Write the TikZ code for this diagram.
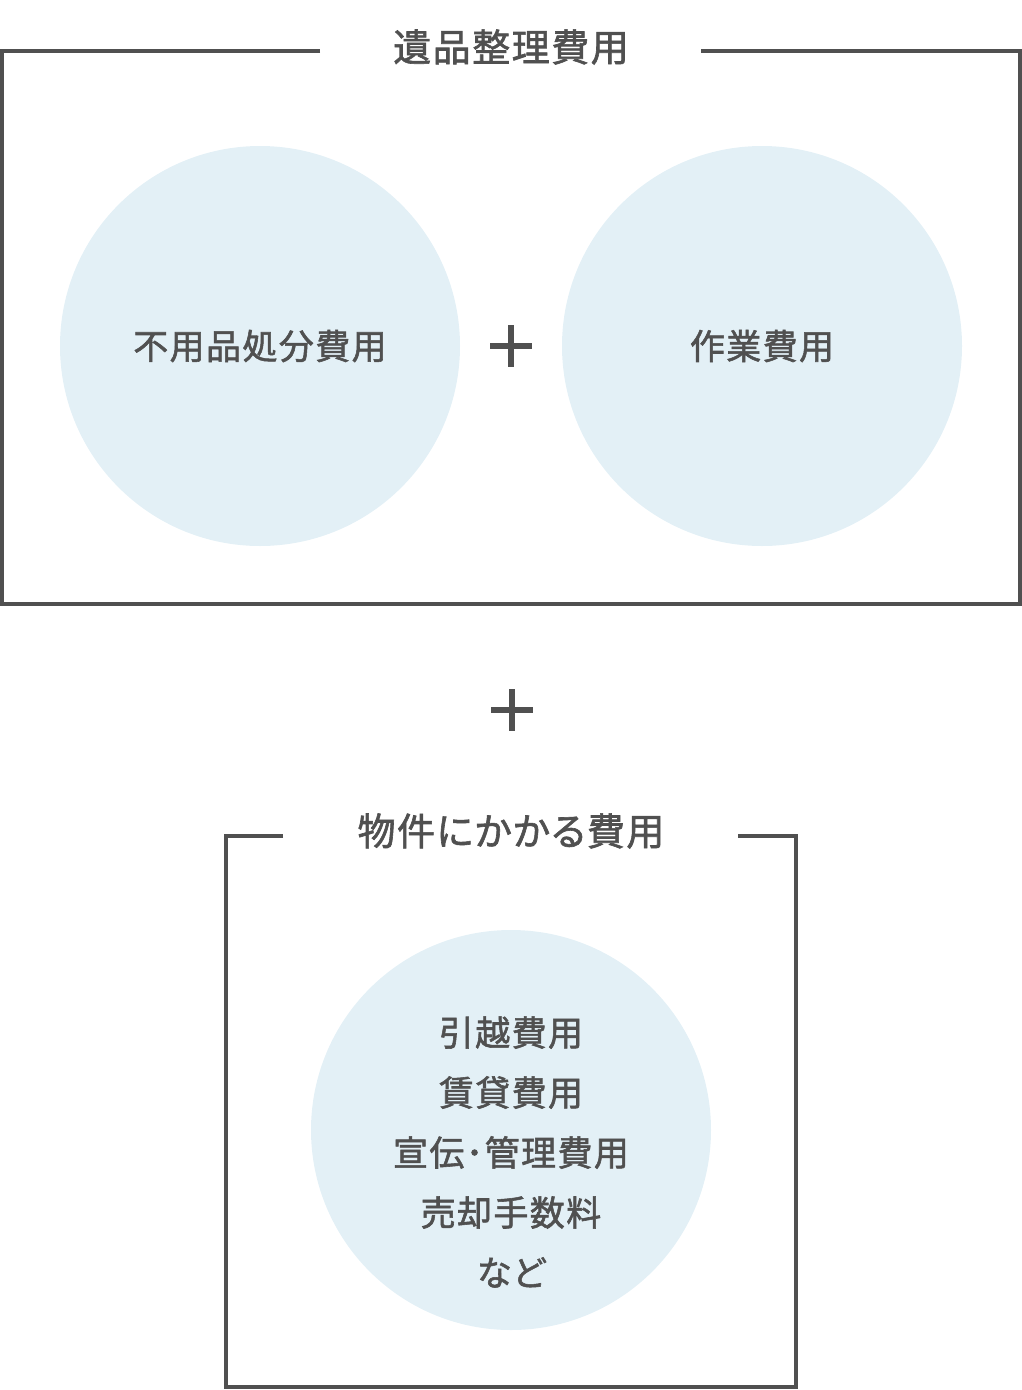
\documentclass[tikz,border=0pt]{standalone}
\usepackage{fontspec}
\newfontfamily\jpfont[LetterSpace=4, FakeBold=1.6, RawFeature=+palt]{Noto Sans CJK JP}
\usetikzlibrary{positioning, calc}
\definecolor{txtgray}{HTML}{505050}
\definecolor{circblue}{HTML}{E3F0F6}

\begin{document}
\begin{tikzpicture}[x=1pt, y=-1pt,
    frame/.style={draw=txtgray, line width=3.3pt},
    plusline/.style={draw=txtgray, line width=5.5pt},
    bubble/.style={circle, fill=circblue, minimum size=400pt, inner sep=0pt, align=center, text=txtgray, font=\jpfont\fontsize{35}{60}\selectfont},
    listtext/.style={align=center, text=txtgray, inner sep=0pt, font=\jpfont\fontsize{35}{60}\selectfont},
    heading/.style={text=txtgray, font=\jpfont\fontsize{38}{40}\selectfont, inner sep=0pt}]
    \useasboundingbox (0,0) rectangle (1022,1390);
    % upper frame
    \node[heading] (title1) at (511,47) {遺品整理費用};
    \coordinate (tl1) at (2,51);
    \coordinate (br1) at (1020,604);
    \draw[frame] (320,51) -| (tl1) |- (br1) |- (701,51);
    \node[bubble] (disposal) at (260,346) {\raisebox{-3pt}{不用品処分費用}};
    \node[bubble] (work) at (762,346) {\raisebox{-3pt}{作業費用}};
    \coordinate (plusA) at (511,346);
    \draw[plusline] ([xshift=-21pt]plusA) -- ([xshift=21pt]plusA);
    \draw[plusline] ([yshift=21pt]plusA) -- ([yshift=-21pt]plusA);
    % plus between the frames
    \coordinate (plusB) at (512,710);
    \draw[plusline] ([xshift=-21pt]plusB) -- ([xshift=21pt]plusB);
    \draw[plusline] ([yshift=21pt]plusB) -- ([yshift=-21pt]plusB);
    % lower frame
    \node[heading] (title2) at (511,831) {物件にかかる費用};
    \coordinate (tl2) at (226,836);
    \coordinate (br2) at (796,1387);
    \draw[frame] (283,836) -| (tl2) |- (br2) |- (738,836);
    \node[bubble] (property) at (511,1130) {};
    \node[listtext] (costlist) at ([yshift=-22pt]property.center) {引越費用\\賃貸費用\\宣伝･管理費用\\売却手数料\\など};
\end{tikzpicture}
\end{document}
